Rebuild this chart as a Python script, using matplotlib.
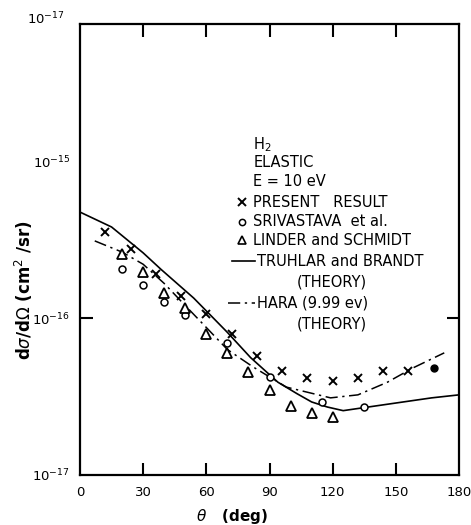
import numpy as np
import matplotlib.pyplot as plt

# --- data ---
present_deg = [12, 24, 36, 48, 60, 72, 84, 96, 108, 120, 132, 144, 156]
present_cs = [3.55e-16, 2.75e-16, 1.91e-16, 1.38e-16, 1.06e-16, 7.9e-17, 5.75e-17,
              4.57e-17, 4.17e-17, 3.98e-17, 4.17e-17, 4.57e-17, 4.57e-17]
filled_deg = [168]
filled_cs = [4.8e-17]

sriv_deg = [20, 30, 40, 50, 70, 90, 115, 135]
sriv_cs = [2.04e-16, 1.62e-16, 1.26e-16, 1.05e-16, 6.9e-17, 4.2e-17, 2.9e-17, 2.7e-17]

linder_deg = [20, 30, 40, 50, 60, 70, 80, 90, 100, 110, 120]
linder_cs = [2.57e-16, 1.95e-16, 1.45e-16, 1.15e-16, 7.9e-17, 6.0e-17, 4.5e-17,
             3.5e-17, 2.75e-17, 2.5e-17, 2.35e-17]

truhlar_deg = [0, 15, 30, 38.5, 54, 70, 81, 94, 103, 110, 117.5, 125, 136, 152, 167, 180]
truhlar_cs = [4.73e-16, 3.8e-16, 2.6e-16, 2.04e-16, 1.34e-16, 8.1e-17, 5.6e-17,
              3.9e-17, 3.3e-17, 2.92e-17, 2.71e-17, 2.57e-17, 2.7e-17, 2.9e-17,
              3.1e-17, 3.24e-17]

hara_deg = [7, 20, 30, 40, 50, 60, 70, 82, 98, 119, 132, 146, 158, 173]
hara_cs = [3.1e-16, 2.63e-16, 2.2e-16, 1.66e-16, 1.2e-16, 8.7e-17, 6.3e-17, 4.9e-17,
           3.63e-17, 3.1e-17, 3.24e-17, 3.9e-17, 4.8e-17, 6.0e-17]

xticks = [0, 30, 60, 90, 120, 150, 180]

# --- figure ---
plt.rcParams['mathtext.fontset'] = 'dejavusans'
fig = plt.figure(figsize=(4.71, 5.25), dpi=100)
ax = fig.add_axes([80/471, 1 - 475/525, 379/471, 451/525])

ax.plot(truhlar_deg, truhlar_cs, color='black', lw=1.2)
ax.plot(hara_deg, hara_cs, color='black', lw=1.1, dashes=(8, 3, 1.5, 3))
ax.plot(present_deg, present_cs, 'x', color='black', ms=6, mew=1.4)
ax.plot(filled_deg, filled_cs, 'o', color='black', ms=5)
ax.plot(sriv_deg, sriv_cs, 'o', mfc='white', mec='black', ms=5, mew=1.1)
ax.plot(linder_deg, linder_cs, '^', mfc='white', mec='black', ms=7, mew=1.3)

ax.set_yscale('log')
ax.set_xlim(0, 180)
ax.set_ylim(1e-17, 10**-14.127)
ax.minorticks_off()

ax.set_xticks(xticks)
ax.set_xticklabels([str(t) for t in xticks], fontsize=9.5)
ax.set_yticks([1e-17, 1e-16, 1e-15])
ax.set_yticklabels([r'$10^{-17}$', r'$10^{-16}$', r'$10^{-15}$'], fontsize=9.5)
ax.tick_params(axis='x', direction='in', length=9, width=1.5, top=True, pad=8)
ax.tick_params(axis='y', direction='in', length=9, width=1.5, right=True, pad=7)
for i, t in enumerate(ax.xaxis.get_major_ticks()):
    if i in (0, len(xticks) - 1):
        t.tick1line.set_visible(False)
        t.tick2line.set_visible(False)
for i, t in enumerate(ax.yaxis.get_major_ticks()):
    if i != 1:
        t.tick1line.set_visible(False)
        t.tick2line.set_visible(False)
for s in ax.spines.values():
    s.set_linewidth(1.6)

# top label as printed
ax.text(-0.04, 1.01, r'$10^{-17}$', transform=ax.transAxes, ha='right', va='center', fontsize=9.5)

ax.set_xlabel(r'$\theta$   (deg)', fontsize=11, fontweight='bold', va='center')
ax.xaxis.set_label_coords(0.40, -0.093)
ax.set_ylabel(r'd$\sigma$/d$\Omega$ (cm$^2$ /sr)', fontsize=12, fontweight='bold', va='center')
ax.yaxis.set_label_coords(-0.148, 0.41)

# legend block
tx = 0.457
fs = 10.5
for txt, y in [('H$_2$', 0.732), ('ELASTIC', 0.692), ('E = 10 eV', 0.650)]:
    ax.text(tx, y, txt, transform=ax.transAxes, fontsize=fs, va='center')
ax.plot([0.427], [0.605], 'x', color='black', ms=6, mew=1.4, transform=ax.transAxes)
ax.text(tx, 0.605, 'PRESENT   RESULT', transform=ax.transAxes, fontsize=fs, va='center')
ax.plot([0.427], [0.561], 'o', mfc='white', mec='black', ms=4.5, mew=1.1, transform=ax.transAxes)
ax.text(tx, 0.561, 'SRIVASTAVA  et al.', transform=ax.transAxes, fontsize=fs, va='center')
ax.plot([0.427], [0.521], '^', mfc='white', mec='black', ms=5.5, mew=1.2, transform=ax.transAxes)
ax.text(tx, 0.521, 'LINDER and SCHMIDT', transform=ax.transAxes, fontsize=fs, va='center')
ax.plot([0.40, 0.462], [0.474, 0.474], color='black', lw=1.2, transform=ax.transAxes)
ax.text(0.467, 0.474, 'TRUHLAR and BRANDT', transform=ax.transAxes, fontsize=fs, va='center')
ax.text(0.665, 0.428, '(THEORY)', transform=ax.transAxes, fontsize=fs, va='center', ha='center')
ax.plot([0.39, 0.462], [0.381, 0.381], color='black', lw=1.1, dashes=(8, 3, 1.5, 3),
        transform=ax.transAxes)
ax.text(0.467, 0.381, 'HARA (9.99 ev)', transform=ax.transAxes, fontsize=fs, va='center')
ax.text(0.665, 0.335, '(THEORY)', transform=ax.transAxes, fontsize=fs, va='center', ha='center')

fig.savefig('out.png', dpi=100)
